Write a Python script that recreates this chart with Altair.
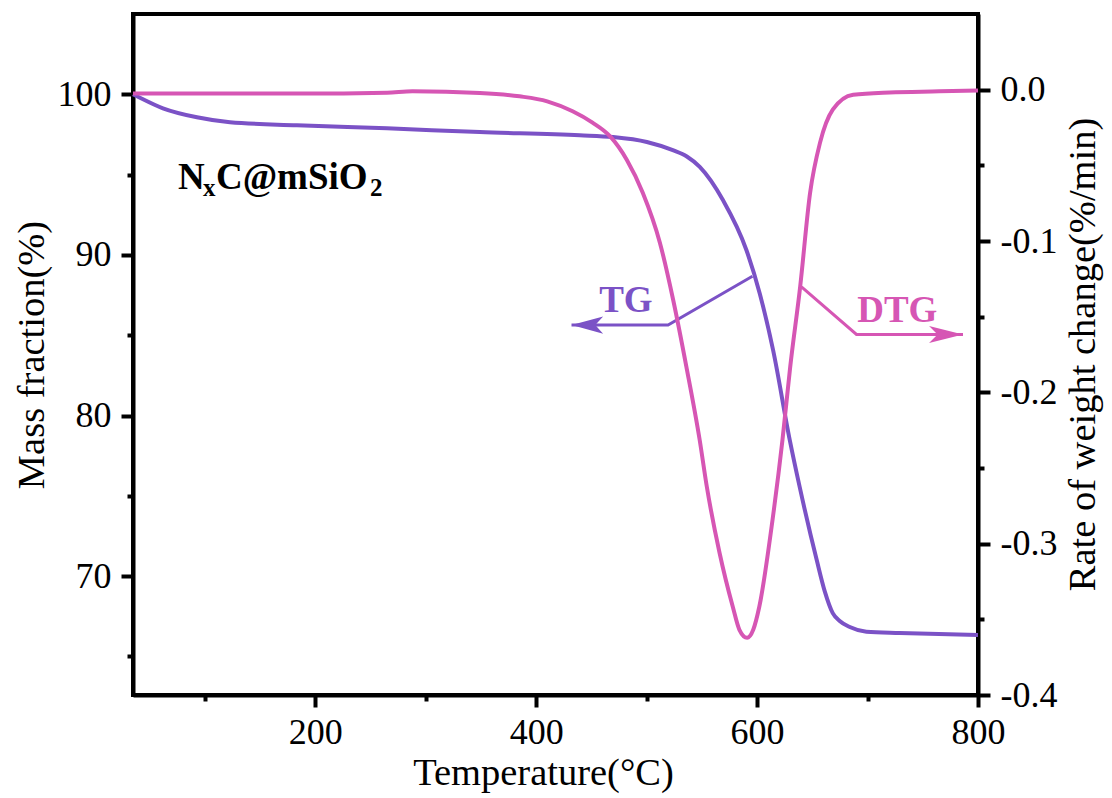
import altair as alt
import pandas as pd

# ---------------- data ----------------
tg_temp = [35, 36.8, 62.1, 92.9, 122.8, 183.4, 264.9, 349.0, 439.5, 469.4, 500.2, 523.7,
           536.4, 548.1, 569.2, 590.4, 602.4, 614.5, 629.6, 638.6, 654.0, 661.2, 668.5,
           674.8, 683.9, 699.0, 729.1, 800]
tg_mass = [100.0, 99.94, 99.13, 98.57, 98.26, 98.07, 97.88, 97.65, 97.45, 97.34, 97.03,
           96.52, 96.13, 95.48, 93.40, 90.29, 87.60, 84.07, 78.47, 75.54, 71.00, 69.07,
           67.70, 67.21, 66.83, 66.54, 66.46, 66.33]

dtg_temp = [35, 186, 265, 288, 349, 385, 410, 433, 451, 467, 482, 496.5, 512, 524, 536,
            548, 554.5, 566, 578, 584, 591, 596.5, 602, 614, 623, 630, 639, 648, 657,
            668.5, 687, 720, 765, 800]
dtg_rate = [-0.0026, -0.0026, -0.0020, -0.0011, -0.0022, -0.0044, -0.0077, -0.0143,
            -0.0218, -0.0309, -0.0463, -0.0681, -0.1011, -0.1388, -0.1831, -0.2313,
            -0.2624, -0.3060, -0.3417, -0.3569, -0.3622, -0.3569, -0.3417, -0.2842,
            -0.2313, -0.1831, -0.1302, -0.0681, -0.0350, -0.0132, -0.0033, -0.0018,
            -0.0011, -0.0005]

x_ticks = [100, 200, 300, 400, 500, 600, 700, 800]
left_ticks = [65, 70, 75, 80, 85, 90, 95, 100]
right_ticks = [-0.4, -0.35, -0.3, -0.25, -0.2, -0.15, -0.1, -0.05, 0.0]

# annotation anchors (data coordinates, left axis)
tg_ptr_T = [432, 519.4, 595.8]
tg_ptr_v = [85.63, 85.63, 88.67]
dtg_ptr_T = [640.2, 690.0, 786.4]
dtg_ptr_v = [88.01, 85.05, 85.05]
tg_label_T, tg_label_v = [481.2], [86.43]
dtg_label_T, dtg_label_v = [726.9], [85.81]
sample_T, sample_v = [75.7], [94.1]

PURPLE = "#7B52C6"
PINK = "#D656B4"
FONT = "Liberation Serif"

tg_df = pd.DataFrame({"T": tg_temp, "v": tg_mass})
dtg_df = pd.DataFrame({"T": dtg_temp, "r": dtg_rate})

xscale = alt.Scale(domain=[35, 800], nice=False, zero=False)
lscale = alt.Scale(domain=[62.6, 105], nice=False, zero=False)
rscale = alt.Scale(domain=[-0.4, 0.05], nice=False, zero=False)

x_axis = alt.Axis(
    values=x_ticks, format="d", title="Temperature(°C)",
    labelExpr="datum.value % 200 === 0 ? datum.label : ''",
    tickSize={"condition": {"test": "datum.value % 200 === 0", "value": 12}, "value": 6},
    labelFlush=False, titleX=410, labelPadding=8, titlePadding=4, titleFontSize=38.5,
)
left_axis = alt.Axis(
    values=left_ticks, format="d", title="Mass fraction(%)",
    labelExpr="datum.value % 10 === 0 ? datum.label : ''",
    tickSize={"condition": {"test": "datum.value % 10 === 0", "value": 12}, "value": 6},
    labelPadding=10, titlePadding=6, titleFontSize=38.5,
)
right_axis = alt.Axis(
    values=right_ticks, orient="right", title="Rate of weight change(%/min)",
    labelExpr="abs(round(datum.value*100)) % 10 === 0 ? (datum.value < -0.001 ? '-' + format(-datum.value, '.1f') : '0.0') : ''",
    tickSize={"condition": {"test": "abs(round(datum.value*100)) % 10 === 0", "value": 12}, "value": 6},
    labelPadding=10, titleAngle=270, titleBaseline="top", titlePadding=8,
    titleFontSize=38.5, titleY=340,
)


def X(axis=None):
    if axis is None:
        return alt.X("T:Q", scale=xscale, title="Temperature(°C)")
    return alt.X("T:Q", scale=xscale, axis=axis)


def YL(axis=None):
    if axis is None:
        return alt.Y("v:Q", scale=lscale, title="Mass fraction(%)")
    return alt.Y("v:Q", scale=lscale, axis=axis)


tg_line = alt.Chart(tg_df).mark_line(color=PURPLE, strokeWidth=4, interpolate="monotone").encode(
    x=X(x_axis), y=YL(left_axis))

tg_ptr = alt.Chart(pd.DataFrame({"T": tg_ptr_T, "v": tg_ptr_v})).mark_line(
    color=PURPLE, strokeWidth=3).encode(x=X(), y=YL())
dtg_ptr = alt.Chart(pd.DataFrame({"T": dtg_ptr_T, "v": dtg_ptr_v})).mark_line(
    color=PINK, strokeWidth=3).encode(x=X(), y=YL())

tg_head = alt.Chart(pd.DataFrame({"T": tg_ptr_T[:1], "v": tg_ptr_v[:1]})).mark_point(
    shape="M 0 0 L 2 -0.55 L 1.5 0 L 2 0.55 Z", size=1000, filled=True, opacity=1,
    color=PURPLE, strokeWidth=0).encode(x=X(), y=YL())
dtg_head = alt.Chart(pd.DataFrame({"T": dtg_ptr_T[-1:], "v": dtg_ptr_v[-1:]})).mark_point(
    shape="M 0 0 L -2 -0.5 L -1.5 0 L -2 0.5 Z", size=1150, filled=True, opacity=1,
    color=PINK, strokeWidth=0).encode(x=X(), y=YL())

tg_text = alt.Chart(pd.DataFrame({"T": tg_label_T, "v": tg_label_v})).mark_text(
    text="TG", font=FONT, fontSize=37, fontWeight="bold", color=PURPLE,
    align="center", baseline="alphabetic").encode(x=X(), y=YL())
dtg_text = alt.Chart(pd.DataFrame({"T": dtg_label_T, "v": dtg_label_v})).mark_text(
    text="DTG", font=FONT, fontSize=37, fontWeight="bold", color=PINK,
    align="center", baseline="alphabetic").encode(x=X(), y=YL())

sdf = pd.DataFrame({"T": sample_T, "v": sample_v})


def piece(txt, size, dx, dy):
    return alt.Chart(sdf).mark_text(
        text=txt, font=FONT, fontSize=size, fontWeight="bold", color="black",
        align="left", baseline="alphabetic", dx=dx, dy=dy).encode(x=X(), y=YL())


sample = [piece("N", 37, 0, 0), piece("x", 25, 25, 7), piece("C@mSiO", 37, 38, 0),
          piece("2", 25, 192, 7)]

left_group = alt.layer(tg_line, tg_ptr, dtg_ptr, tg_head, dtg_head, tg_text, dtg_text, *sample)

dtg_line = alt.Chart(dtg_df).mark_line(color=PINK, strokeWidth=4, interpolate="monotone").encode(
    x=X(x_axis), y=alt.Y("r:Q", scale=rscale, axis=right_axis))

chart = alt.layer(left_group, dtg_line).resolve_scale(y="independent").properties(
    width=845, height=681,
    autosize=alt.AutoSizeParams(type="none"),
    padding={"left": 133, "top": 14, "right": 134, "bottom": 103},
    background="white",
).configure_view(
    stroke="black", strokeWidth=4
).configure_axis(
    domainColor="black", domainWidth=4, tickColor="black", tickWidth=4, tickSize=12,
    labelFont=FONT, labelFontSize=36, labelColor="black",
    titleFont=FONT, titleFontSize=36, titleFontWeight="normal", titleColor="black",
    grid=False, labelOverlap=False,
)

chart.save("out.html", embed_options={"renderer": "svg", "actions": False})
